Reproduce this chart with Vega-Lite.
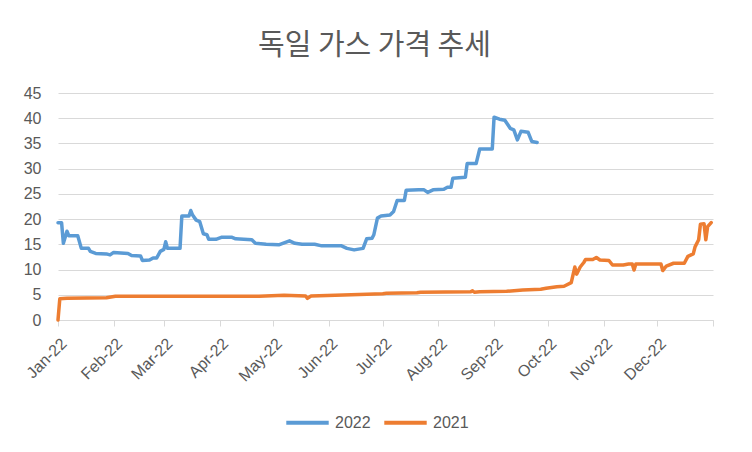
{
  "$schema": "https://vega.github.io/schema/vega-lite/v6.json",
  "width": 655,
  "height": 227,
  "autosize": {"type": "none"},
  "padding": {"left": 58, "top": 93, "right": 39, "bottom": 132},
  "background": "white",
  "title": {
    "text": "독일 가스 가격 추세",
    "font": "Noto Sans CJK KR",
    "fontSize": 29,
    "fontWeight": "normal",
    "color": "#595959",
    "anchor": "middle",
    "dx": -11,
    "offset": 24
  },
  "data": {
    "values": [
      {"d": "2022-01-01", "v": 19.3, "s": "2022"},
      {"d": "2022-01-03", "v": 19.3, "s": "2022"},
      {"d": "2022-01-04", "v": 15.2, "s": "2022"},
      {"d": "2022-01-06", "v": 17.6, "s": "2022"},
      {"d": "2022-01-07", "v": 16.7, "s": "2022"},
      {"d": "2022-01-12", "v": 16.7, "s": "2022"},
      {"d": "2022-01-14", "v": 14.2, "s": "2022"},
      {"d": "2022-01-18", "v": 14.2, "s": "2022"},
      {"d": "2022-01-19", "v": 13.6, "s": "2022"},
      {"d": "2022-01-22", "v": 13.2, "s": "2022"},
      {"d": "2022-01-28", "v": 13.1, "s": "2022"},
      {"d": "2022-01-30", "v": 12.9, "s": "2022"},
      {"d": "2022-02-01", "v": 13.4, "s": "2022"},
      {"d": "2022-02-09", "v": 13.2, "s": "2022"},
      {"d": "2022-02-11", "v": 12.8, "s": "2022"},
      {"d": "2022-02-16", "v": 12.7, "s": "2022"},
      {"d": "2022-02-17", "v": 11.8, "s": "2022"},
      {"d": "2022-02-21", "v": 11.9, "s": "2022"},
      {"d": "2022-02-23", "v": 12.3, "s": "2022"},
      {"d": "2022-02-25", "v": 12.3, "s": "2022"},
      {"d": "2022-02-27", "v": 13.6, "s": "2022"},
      {"d": "2022-03-01", "v": 14.0, "s": "2022"},
      {"d": "2022-03-02", "v": 15.5, "s": "2022"},
      {"d": "2022-03-03", "v": 14.2, "s": "2022"},
      {"d": "2022-03-10", "v": 14.2, "s": "2022"},
      {"d": "2022-03-11", "v": 20.6, "s": "2022"},
      {"d": "2022-03-15", "v": 20.6, "s": "2022"},
      {"d": "2022-03-16", "v": 21.7, "s": "2022"},
      {"d": "2022-03-17", "v": 20.8, "s": "2022"},
      {"d": "2022-03-19", "v": 19.8, "s": "2022"},
      {"d": "2022-03-21", "v": 19.5, "s": "2022"},
      {"d": "2022-03-23", "v": 17.1, "s": "2022"},
      {"d": "2022-03-25", "v": 16.9, "s": "2022"},
      {"d": "2022-03-26", "v": 16.0, "s": "2022"},
      {"d": "2022-03-30", "v": 16.0, "s": "2022"},
      {"d": "2022-04-02", "v": 16.4, "s": "2022"},
      {"d": "2022-04-08", "v": 16.4, "s": "2022"},
      {"d": "2022-04-10", "v": 16.1, "s": "2022"},
      {"d": "2022-04-19", "v": 15.9, "s": "2022"},
      {"d": "2022-04-21", "v": 15.2, "s": "2022"},
      {"d": "2022-04-27", "v": 15.0, "s": "2022"},
      {"d": "2022-05-04", "v": 14.9, "s": "2022"},
      {"d": "2022-05-10", "v": 15.7, "s": "2022"},
      {"d": "2022-05-13", "v": 15.2, "s": "2022"},
      {"d": "2022-05-17", "v": 15.0, "s": "2022"},
      {"d": "2022-05-24", "v": 15.0, "s": "2022"},
      {"d": "2022-05-28", "v": 14.7, "s": "2022"},
      {"d": "2022-06-08", "v": 14.7, "s": "2022"},
      {"d": "2022-06-11", "v": 14.2, "s": "2022"},
      {"d": "2022-06-15", "v": 13.9, "s": "2022"},
      {"d": "2022-06-20", "v": 14.2, "s": "2022"},
      {"d": "2022-06-22", "v": 16.1, "s": "2022"},
      {"d": "2022-06-25", "v": 16.2, "s": "2022"},
      {"d": "2022-06-26", "v": 16.9, "s": "2022"},
      {"d": "2022-06-28", "v": 20.2, "s": "2022"},
      {"d": "2022-06-30", "v": 20.6, "s": "2022"},
      {"d": "2022-07-05", "v": 20.8, "s": "2022"},
      {"d": "2022-07-07", "v": 21.5, "s": "2022"},
      {"d": "2022-07-09", "v": 23.7, "s": "2022"},
      {"d": "2022-07-13", "v": 23.7, "s": "2022"},
      {"d": "2022-07-14", "v": 25.7, "s": "2022"},
      {"d": "2022-07-21", "v": 25.8, "s": "2022"},
      {"d": "2022-07-24", "v": 25.8, "s": "2022"},
      {"d": "2022-07-26", "v": 25.3, "s": "2022"},
      {"d": "2022-07-29", "v": 25.8, "s": "2022"},
      {"d": "2022-08-04", "v": 25.9, "s": "2022"},
      {"d": "2022-08-06", "v": 26.3, "s": "2022"},
      {"d": "2022-08-08", "v": 26.3, "s": "2022"},
      {"d": "2022-08-09", "v": 28.1, "s": "2022"},
      {"d": "2022-08-16", "v": 28.3, "s": "2022"},
      {"d": "2022-08-17", "v": 31.0, "s": "2022"},
      {"d": "2022-08-22", "v": 31.0, "s": "2022"},
      {"d": "2022-08-24", "v": 33.9, "s": "2022"},
      {"d": "2022-08-31", "v": 33.9, "s": "2022"},
      {"d": "2022-09-01", "v": 40.2, "s": "2022"},
      {"d": "2022-09-04", "v": 39.8, "s": "2022"},
      {"d": "2022-09-07", "v": 39.6, "s": "2022"},
      {"d": "2022-09-10", "v": 38.0, "s": "2022"},
      {"d": "2022-09-12", "v": 37.7, "s": "2022"},
      {"d": "2022-09-13", "v": 36.7, "s": "2022"},
      {"d": "2022-09-14", "v": 35.7, "s": "2022"},
      {"d": "2022-09-16", "v": 37.4, "s": "2022"},
      {"d": "2022-09-20", "v": 37.2, "s": "2022"},
      {"d": "2022-09-22", "v": 35.4, "s": "2022"},
      {"d": "2022-09-25", "v": 35.2, "s": "2022"},
      {"d": "2022-01-01", "v": 0, "s": "2021"},
      {"d": "2022-01-02", "v": 4.2, "s": "2021"},
      {"d": "2022-01-06", "v": 4.3, "s": "2021"},
      {"d": "2022-01-28", "v": 4.4, "s": "2021"},
      {"d": "2022-02-02", "v": 4.7, "s": "2021"},
      {"d": "2022-04-23", "v": 4.7, "s": "2021"},
      {"d": "2022-05-07", "v": 4.9, "s": "2021"},
      {"d": "2022-05-19", "v": 4.75, "s": "2021"},
      {"d": "2022-05-20", "v": 4.3, "s": "2021"},
      {"d": "2022-05-22", "v": 4.75, "s": "2021"},
      {"d": "2022-06-09", "v": 4.95, "s": "2021"},
      {"d": "2022-07-01", "v": 5.2, "s": "2021"},
      {"d": "2022-07-03", "v": 5.3, "s": "2021"},
      {"d": "2022-07-20", "v": 5.4, "s": "2021"},
      {"d": "2022-07-22", "v": 5.5, "s": "2021"},
      {"d": "2022-08-19", "v": 5.6, "s": "2021"},
      {"d": "2022-08-20", "v": 5.8, "s": "2021"},
      {"d": "2022-08-21", "v": 5.5, "s": "2021"},
      {"d": "2022-08-24", "v": 5.6, "s": "2021"},
      {"d": "2022-09-08", "v": 5.7, "s": "2021"},
      {"d": "2022-09-17", "v": 5.95, "s": "2021"},
      {"d": "2022-09-27", "v": 6.1, "s": "2021"},
      {"d": "2022-09-30", "v": 6.3, "s": "2021"},
      {"d": "2022-10-06", "v": 6.6, "s": "2021"},
      {"d": "2022-10-10", "v": 6.7, "s": "2021"},
      {"d": "2022-10-14", "v": 7.4, "s": "2021"},
      {"d": "2022-10-16", "v": 10.5, "s": "2021"},
      {"d": "2022-10-17", "v": 9.1, "s": "2021"},
      {"d": "2022-10-19", "v": 10.5, "s": "2021"},
      {"d": "2022-10-21", "v": 11.4, "s": "2021"},
      {"d": "2022-10-22", "v": 12.0, "s": "2021"},
      {"d": "2022-10-26", "v": 12.0, "s": "2021"},
      {"d": "2022-10-28", "v": 12.4, "s": "2021"},
      {"d": "2022-10-30", "v": 11.9, "s": "2021"},
      {"d": "2022-11-04", "v": 11.8, "s": "2021"},
      {"d": "2022-11-06", "v": 10.9, "s": "2021"},
      {"d": "2022-11-12", "v": 10.9, "s": "2021"},
      {"d": "2022-11-15", "v": 11.1, "s": "2021"},
      {"d": "2022-11-17", "v": 11.1, "s": "2021"},
      {"d": "2022-11-18", "v": 9.9, "s": "2021"},
      {"d": "2022-11-19", "v": 11.1, "s": "2021"},
      {"d": "2022-12-03", "v": 11.1, "s": "2021"},
      {"d": "2022-12-04", "v": 9.8, "s": "2021"},
      {"d": "2022-12-06", "v": 10.7, "s": "2021"},
      {"d": "2022-12-10", "v": 11.25, "s": "2021"},
      {"d": "2022-12-16", "v": 11.25, "s": "2021"},
      {"d": "2022-12-18", "v": 12.6, "s": "2021"},
      {"d": "2022-12-21", "v": 13.1, "s": "2021"},
      {"d": "2022-12-22", "v": 14.5, "s": "2021"},
      {"d": "2022-12-24", "v": 15.9, "s": "2021"},
      {"d": "2022-12-25", "v": 19.0, "s": "2021"},
      {"d": "2022-12-27", "v": 19.1, "s": "2021"},
      {"d": "2022-12-28", "v": 15.9, "s": "2021"},
      {"d": "2022-12-29", "v": 18.5, "s": "2021"},
      {"d": "2022-12-31", "v": 19.3, "s": "2021"}
    ]
  },
  "mark": {"type": "line", "strokeWidth": 3.5, "strokeCap": "round", "strokeJoin": "round"},
  "encoding": {
    "x": {
      "field": "d",
      "type": "temporal",
      "scale": {
        "type": "utc",
        "domain": [
          {"year": 2022, "month": 1, "date": 1, "utc": true},
          {"year": 2023, "month": 1, "date": 1, "utc": true}
        ]
      },
      "axis": {
        "title": null,
        "tickCount": {"interval": "month", "step": 1},
        "labelExpr": "datum.index >= 1 ? '' : utcFormat(datum.value, '%b-%y')",
        "labelAngle": -45,
        "labelOverlap": false,
        "labelFlush": false,
        "labelFont": "Liberation Sans",
        "labelFontSize": 16,
        "labelColor": "#595959",
        "labelPadding": 9,
        "grid": false,
        "domainColor": "#D9D9D9",
        "domainWidth": 1,
        "tickColor": "#D9D9D9",
        "tickSize": 6,
        "ticks": true
      }
    },
    "y": {
      "field": "v",
      "type": "quantitative",
      "scale": {"domain": [0, 45], "nice": false},
      "axis": {
        "title": null,
        "values": [0, 5, 10, 15, 20, 25, 30, 35, 40, 45],
        "grid": true,
        "gridColor": "#D9D9D9",
        "gridWidth": 1,
        "domain": false,
        "ticks": false,
        "labelFont": "Liberation Sans",
        "labelFontSize": 16,
        "labelColor": "#595959",
        "labelPadding": 17
      }
    },
    "color": {
      "field": "s",
      "type": "nominal",
      "scale": {"domain": ["2022", "2021"], "range": ["#5B9BD5", "#ED7D31"]},
      "legend": {
        "title": null,
        "orient": "none",
        "legendX": 226,
        "legendY": 306,
        "direction": "horizontal",
        "symbolType": "stroke",
        "symbolSize": 1800,
        "symbolStrokeWidth": 4,
        "labelFont": "Liberation Sans",
        "labelFontSize": 16,
        "labelColor": "#595959",
        "labelOffset": 4,
        "columnPadding": 5
      }
    }
  },
  "config": {"view": {"stroke": null}}
}
